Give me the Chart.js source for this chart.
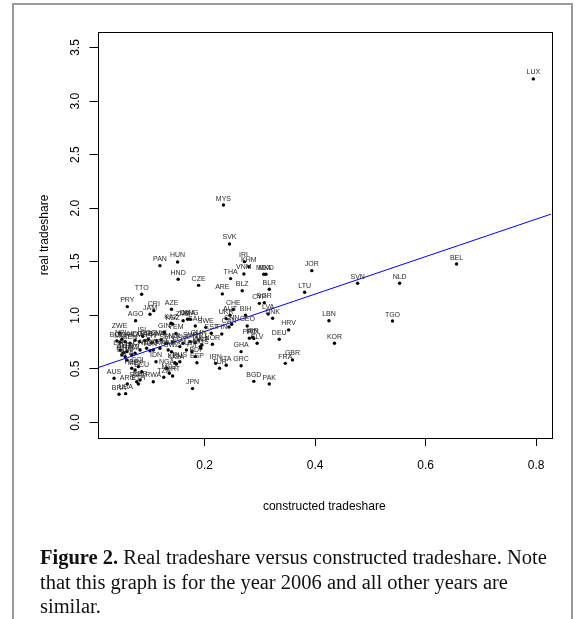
<!DOCTYPE html>
<html><head><meta charset="utf-8">
<script src="https://cdn.jsdelivr.net/npm/chart.js@4.4.0/dist/chart.umd.min.js"></script>
<style>
html,body{margin:0;padding:0;background:#fff;width:579px;height:619px;overflow:hidden;}
#wrap{position:relative;width:579px;height:619px;}
canvas{position:absolute;left:0;top:0;}
.frame{position:absolute;background:#9a9a9a;}
#cap{position:absolute;left:40px;top:545px;font-family:"Liberation Serif",serif;font-size:20.5px;line-height:24.5px;color:#111;white-space:nowrap;}
</style></head><body>
<div id="wrap">
<canvas id="c" width="579" height="619"></canvas>
<div class="frame" style="left:12px;top:3px;width:2px;height:616px"></div>
<div class="frame" style="left:12px;top:3px;width:561px;height:2px"></div>
<div class="frame" style="left:571px;top:3px;width:2px;height:616px"></div>
<div id="cap"><b>Figure 2.</b> Real tradeshare versus constructed tradeshare. Note<br>that this graph is for the year 2006 and all other years are<br>similar.</div>
</div>
<script>
const countries = ["LUX","MYS","SVK","PAN","HUN","HND","CZE","IRL","KHM","VNM",
"MDA","MKD","THA","JOR","ARE","BLZ","BLR","LTU","SVN","NLD",
"BEL","TTO","PRY","CRI","JAM","AZE","AGO","CYP","BGR","BIH",
"LVA","DNK","GEO","HRV","ISR","PRT","POL","SLV","DEU","LBN",
"TGO","KOR","GHA","NOR","GBR","FRA","GRC","IRN","ITA","TUR",
"BGD","PAK","FIN","SWE","CHE","AUT","UKR","CAN","CHN","ZWE",
"BOL","NPL","MLI","MDG","ISL","MWI","BEN","CMR","GAB","COG",
"CIV","BWA","NIC","MAR","GIN","YEM","KAZ","KGZ","ZMB","DMA",
"MNG","SAU","PHL","SYR","MMR","OMN","KWT","EGY","SEN","KEN",
"RUS","ESP","UGA","IDN","NGA","MOZ","TZA","MRT","RWA","NER",
"SDN","ETH","AUS","ARG","BRA","USA","JPN","PER","MEX","COL",
"ECU","LSO","ALB","GTM","HTI","DOM","BFA","URY","NZL","CHL",
"VEN","TUN","LKA","ARM","NAM","SWZ","GUY","FJI","BDI","EST",
"MLT","MUS"];
const constructedShare = [0.795,0.234,0.245,0.119,0.151,0.152,0.189,0.272,0.280,0.271,
0.307,0.311,0.247,0.394,0.232,0.268,0.317,0.381,0.477,0.553,
0.656,0.086,0.060,0.108,0.101,0.140,0.075,0.299,0.308,0.274,
0.315,0.323,0.277,0.352,0.287,0.281,0.289,0.295,0.335,0.425,
0.540,0.435,0.266,0.214,0.359,0.346,0.266,0.220,0.239,0.227,
0.289,0.317,0.231,0.202,0.252,0.246,0.239,0.244,0.249,0.046,
0.041,0.050,0.047,0.074,0.088,0.056,0.065,0.082,0.092,0.098,
0.104,0.113,0.121,0.142,0.127,0.148,0.139,0.142,0.161,0.169,
0.174,0.183,0.161,0.174,0.183,0.189,0.192,0.155,0.131,0.146,
0.155,0.186,0.149,0.112,0.131,0.136,0.126,0.142,0.107,0.083,
0.077,0.080,0.036,0.060,0.045,0.057,0.178,0.068,0.074,0.080,
0.086,0.047,0.053,0.059,0.050,0.056,0.059,0.068,0.074,0.083,
0.095,0.101,0.107,0.119,0.134,0.140,0.167,0.177,0.183,0.212,
0.195,0.193];
const realShare = [3.207,2.030,1.666,1.464,1.498,1.337,1.280,1.501,1.454,1.386,
1.384,1.384,1.343,1.417,1.200,1.230,1.243,1.216,1.299,1.299,
1.479,1.197,1.081,1.044,1.010,1.057,0.950,1.112,1.118,1.001,
1.013,0.973,0.901,0.864,0.796,0.786,0.783,0.739,0.777,0.950,
0.947,0.739,0.661,0.730,0.584,0.552,0.530,0.552,0.534,0.506,
0.384,0.359,0.826,0.888,1.055,1.001,0.969,0.891,0.917,0.836,
0.760,0.776,0.748,0.767,0.805,0.754,0.739,0.754,0.763,0.776,
0.745,0.763,0.772,0.751,0.840,0.831,0.926,0.919,0.950,0.964,
0.964,0.901,0.739,0.754,0.745,0.771,0.708,0.708,0.739,0.558,
0.567,0.558,0.546,0.567,0.506,0.459,0.422,0.434,0.380,0.396,
0.380,0.359,0.413,0.359,0.263,0.269,0.316,0.506,0.490,0.521,
0.474,0.677,0.652,0.661,0.630,0.615,0.584,0.630,0.646,0.677,
0.693,0.670,0.677,0.693,0.677,0.661,0.677,0.661,0.615,0.833,
0.723,0.693];
const fitLineX = [0.006, 0.827];
const fitLineY = [0.510, 1.945];
const xTickValues = [0.2, 0.4, 0.6, 0.8];
const yTickValues = [0, 0.5, 1, 1.5, 2, 2.5, 3, 3.5];

const points = constructedShare.map((x, i) => ({x: x, y: realShare[i]}));
const fitLine = fitLineX.map((x, i) => ({x: x, y: fitLineY[i]}));

const boxPlugin = {
  id: 'box',
  afterDraw(chart) {
    const a = chart.chartArea, ctx = chart.ctx;
    ctx.save();
    ctx.strokeStyle = '#000';
    ctx.lineWidth = 1;
    ctx.strokeRect(Math.round(a.left) + 0.5, Math.round(a.top) + 0.5,
      Math.round(a.right - a.left), Math.round(a.bottom - a.top));
    ctx.restore();
  }
};
const labelPlugin = {
  id: 'pointLabels',
  afterDatasetsDraw(chart) {
    const meta = chart.getDatasetMeta(1);
    const ctx = chart.ctx;
    ctx.save();
    ctx.font = '7px "Liberation Sans", Arial, sans-serif';
    ctx.fillStyle = '#2a2a2a';
    ctx.textAlign = 'center';
    ctx.textBaseline = 'alphabetic';
    meta.data.forEach((el, i) => {
      ctx.fillText(countries[i], el.x, el.y - 4.5);
    });
    ctx.restore();
  }
};

const axisFont = {family: '"Liberation Sans", Arial, sans-serif', size: 12};

new Chart(document.getElementById('c'), {
  data: {
    datasets: [
      {type: 'line', data: fitLine, borderColor: '#0000ff', borderWidth: 1,
       pointRadius: 0, fill: false, order: 0},
      {type: 'scatter', data: points, backgroundColor: '#000', borderWidth: 0,
       pointRadius: 1.7, order: 1}
    ]
  },
  options: {
    responsive: false,
    animation: false,
    devicePixelRatio: 1,
    events: [],
    layout: {padding: {left: 37.8, top: 32, right: 28, bottom: 104.8}},
    plugins: {legend: {display: false}, tooltip: {enabled: false}},
    scales: {
      x: {
        type: 'linear', position: 'bottom', min: 0.006, max: 0.827,
        afterBuildTicks: s => { s.ticks = xTickValues.map(v => ({value: v})); },
        afterFit: s => { s.height = 76.2; },
        grid: {display: true, drawOnChartArea: false, drawTicks: true, tickLength: 8,
               tickColor: '#000', tickWidth: 1, color: '#000'},
        border: {display: false},
        ticks: {color: '#000', font: axisFont, padding: 12.5, maxRotation: 0, minRotation: 0,
                callback: v => v.toFixed(1)},
        title: {display: true, text: 'constructed tradeshare', color: '#000', font: axisFont, padding: 0}
      },
      y: {
        type: 'linear', position: 'left', min: -0.145, max: 3.645,
        afterBuildTicks: s => { s.ticks = yTickValues.map(v => ({value: v})); },
        afterFit: s => { s.width = 59.7; },
        grid: {display: true, drawOnChartArea: false, drawTicks: true, tickLength: 8,
               tickColor: '#000', tickWidth: 1, color: '#000'},
        border: {display: false},
        ticks: {color: '#000', font: axisFont, padding: 5.6, minRotation: 90, maxRotation: 90,
                crossAlign: 'center', callback: v => v.toFixed(1)},
        title: {display: true, text: 'real tradeshare', color: '#000', font: axisFont, padding: 0}
      }
    }
  },
  plugins: [boxPlugin, labelPlugin]
});
</script>
</body></html>
